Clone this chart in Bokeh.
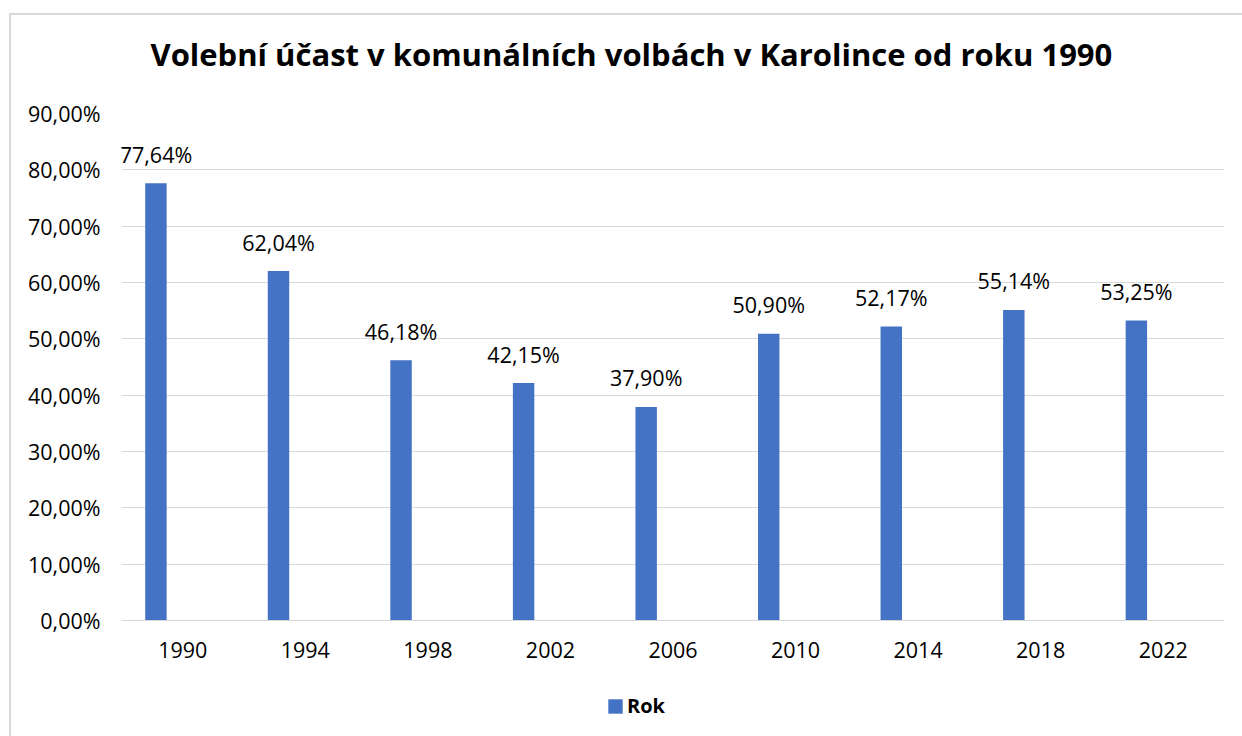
from bokeh.plotting import figure
from bokeh.layouts import column
from bokeh.models import (ColumnDataSource, Range1d, FactorRange, FixedTicker,
                          CustomJSTickFormatter, Legend, LegendItem, Title)
from bokeh.transform import dodge
from bokeh.core.properties import value
from bokeh.embed import file_html
from bokeh.resources import INLINE

years = ["1990", "1994", "1998", "2002", "2006", "2010", "2014", "2018", "2022"]
turnout_pct = [77.64, 62.04, 46.18, 42.15, 37.90, 50.90, 52.17, 55.14, 53.25]
y_ticks = [0.0, 0.1, 0.2, 0.3, 0.4, 0.5, 0.6, 0.7, 0.8, 0.9]
title_text = "Volební účast v komunálních volbách v Karolince od roku 1990"
series_name = "Rok"

FONT = "Open Sans"
BAR = "#4472C4"
GRID = "#d9d9d9"
TXT = "#000000"
FS = "21.5px"

src = ColumnDataSource(dict(
    year=years,
    val=[v / 100 for v in turnout_pct],
    lab=[f"{v:.2f}".replace(".", ",") + "%" for v in turnout_pct],
))

# ---------------- main chart ----------------
p = figure(width=1231, height=661, output_backend="svg", toolbar_location=None,
           x_range=FactorRange(*years), y_range=Range1d(0, 0.9),
           min_border_left=110, min_border_right=18, min_border_top=98,
           min_border_bottom=56)
p.outline_line_color = None
p.background_fill_color = "white"
p.border_fill_color = "white"

r = p.vbar(x=dodge("year", -0.219, range=p.x_range), top="val", width=0.175,
           source=src, fill_color=BAR, line_color=None)

p.text(x=dodge("year", -0.219, range=p.x_range), y="val", text="lab", source=src,
       text_align="center", text_baseline="alphabetic", y_offset=-29,
       text_font=value(FONT), text_font_size=FS, text_color=TXT)

p.yaxis.ticker = FixedTicker(ticks=y_ticks)
p.yaxis.formatter = CustomJSTickFormatter(
    code="return (tick*100).toFixed(2).replace('.', ',') + '%';")
p.yaxis.axis_line_color = None
p.yaxis.major_tick_line_color = None
p.yaxis.minor_tick_line_color = None
p.yaxis.major_tick_out = 0
p.yaxis.major_label_standoff = 21
p.yaxis.major_label_text_font = FONT
p.yaxis.major_label_text_font_size = FS
p.yaxis.major_label_text_color = TXT

p.xaxis.axis_line_color = GRID
p.xaxis.axis_line_width = 1
p.xaxis.major_tick_line_color = None
p.xaxis.minor_tick_line_color = None
p.xaxis.major_tick_out = 0
p.xaxis.major_label_standoff = 21
p.xaxis.major_label_text_font = FONT
p.xaxis.major_label_text_font_size = FS
p.xaxis.major_label_text_color = TXT

p.xgrid.grid_line_color = None
p.ygrid.grid_line_color = GRID
p.ygrid.grid_line_width = 1

# title (spacer nearest the plot, then the real title)
p.add_layout(Title(text=" ", text_font=FONT, text_font_size="10px", standoff=8), "above")
p.add_layout(Title(text=title_text, align="left", offset=29, text_font=FONT,
                   text_font_style="bold", text_font_size="31px", text_color=TXT,
                   standoff=29), "above")

# ---------------- legend strip ----------------
lg = figure(width=1231, height=60, output_backend="svg", toolbar_location=None,
            x_range=Range1d(0, 1), y_range=Range1d(0, 1),
            x_axis_type=None, y_axis_type=None, min_border=0)
lg.outline_line_color = None
lg.xgrid.visible = False
lg.ygrid.visible = False
# hidden proxy of the bar series, only used for the legend swatch
lg_r = lg.vbar(x="val", top="val", width=0.175, source=src,
               fill_color=BAR, line_color=None, visible=False)
leg = Legend(items=[LegendItem(label=series_name, renderers=[lg_r])],
             location=(485, 17), orientation="horizontal",
             border_line_color=None, background_fill_alpha=0,
             padding=0, margin=0, glyph_width=18, glyph_height=18,
             label_height=14, label_standoff=3,
             label_text_font=FONT, label_text_font_style="bold",
             label_text_font_size="20px", label_text_color=TXT,
             label_text_baseline="middle")
lg.add_layout(leg)

layout = column(p, lg, spacing=0, margin=(13, 0, 0, 9),
                styles={"border-top": "2px solid #d9d9d9",
                        "border-left": "2px solid #d9d9d9"})

open("out.html", "w").write(file_html(layout, INLINE))
